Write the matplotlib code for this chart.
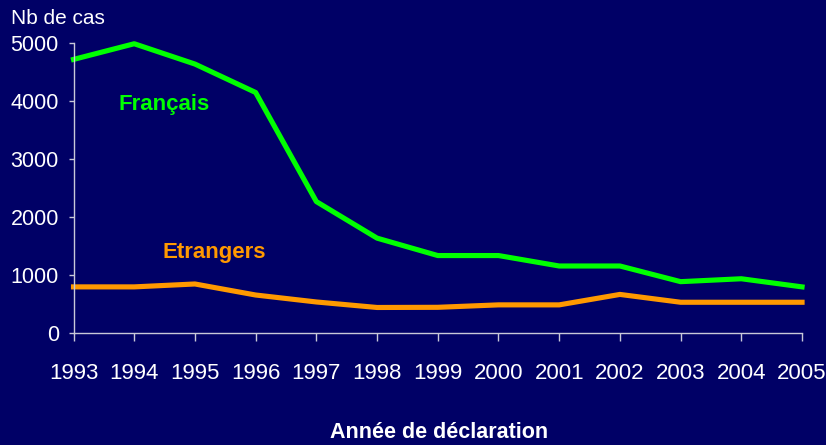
import matplotlib.pyplot as plt

# annees de declaration
annees = [1993, 1994, 1995, 1996, 1997, 1998, 1999, 2000, 2001, 2002, 2003, 2004, 2005]
# nombre de cas
francais = [4720, 4990, 4640, 4150, 2270, 1640, 1340, 1340, 1160, 1160, 890, 940, 800]
etrangers = [800, 800, 850, 660, 540, 445, 448, 490, 490, 670, 535, 535, 535]
yticks = [0, 1000, 2000, 3000, 4000, 5000]

fond = '#000066'
police = ['Liberation Sans', 'DejaVu Sans']

fig = plt.figure(figsize=(8.26, 4.45), dpi=100, facecolor=fond)
ax = fig.add_axes([0.089, 0.251, 0.882, 0.652], facecolor=fond)

ax.plot(annees, francais, color='#00ff00', linewidth=3.7, clip_on=False)
ax.plot(annees, etrangers, color='#ff9900', linewidth=3.7, clip_on=False)

ax.set_xlim(1993, 2005)
ax.set_ylim(0, 5000)
ax.set_xticks(annees)
ax.set_yticks(yticks)
ax.set_xticklabels([str(a) for a in annees], family=police, fontsize=16, color='white')
ax.set_yticklabels([str(v) for v in yticks], family=police, fontsize=15.5, color='white')
ax.tick_params(axis='x', direction='out', length=5.5, width=1, color='#c8c8d8', pad=16)
ax.tick_params(axis='y', direction='out', length=3.6, width=1, color='#c8c8d8', pad=7)

for side in ['top', 'right']:
    ax.spines[side].set_visible(False)
for side in ['left', 'bottom']:
    ax.spines[side].set_color('#c8c8d8')
    ax.spines[side].set_linewidth(1)

ax.text(1994.5, 3850, 'Français', color='#00ff00', fontsize=16, fontweight='bold',
        family=police, ha='center', va='baseline')
ax.text(1995.31, 1293, 'Etrangers', color='#ff9900', fontsize=16, fontweight='bold',
        family=police, ha='center', va='baseline')

fig.text(0.013, 0.946, 'Nb de cas', color='white', fontsize=15,
         family=police, ha='left', va='baseline')
fig.text(0.531, 0.016, 'Année de déclaration', color='white', fontsize=15.5, fontweight='bold',
         family=police, ha='center', va='baseline')

fig.savefig('out.png', dpi=100, facecolor=fond)
